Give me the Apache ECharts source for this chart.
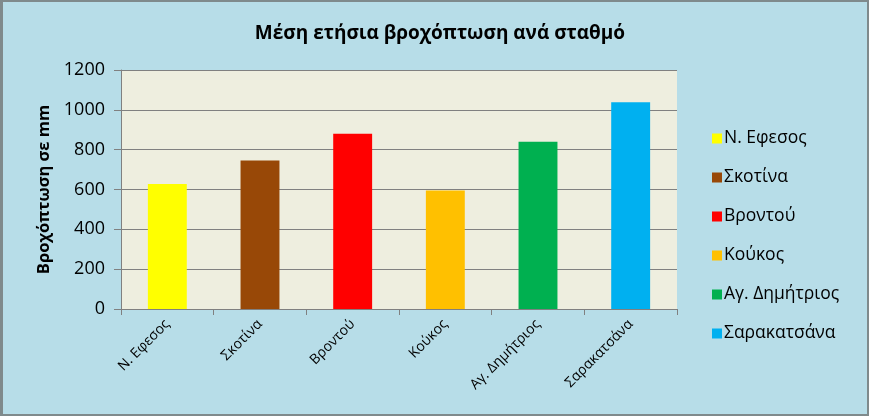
<!DOCTYPE html>
<html><head><meta charset="utf-8">
<script src="https://cdn.jsdelivr.net/npm/echarts@6/dist/echarts.min.js"></script>
<style>
html,body{margin:0;padding:0;background:#7f8a8c;}
#c{position:absolute;left:3px;top:2px;width:864px;height:412px;background:#b7dde8;}
</style></head><body>
<div id="c"></div>
<script>
const categories = ['Ν. Εφεσος','Σκοτίνα','Βροντού','Κούκος','Αγ. Δημήτριος','Σαρακατσάνα'];
const values = [628, 745, 880, 595, 840, 1038];
const colors = ['#ffff00','#984807','#ff0000','#ffc000','#00b050','#00b0f0'];
const yTicks = [0,200,400,600,800,1000,1200];

const FONT = '"Open Sans", "Noto Sans", sans-serif';
const chart = echarts.init(document.getElementById('c'));
const series = categories.map((name, i) => ({
  name: name,
  type: 'bar',
  stack: 'all',
  barWidth: '42%',
  itemStyle: {color: colors[i]},
  data: categories.map((c, j) => j === i ? values[i] : '-')
}));
chart.setOption({
  animation: false,
  backgroundColor: '#b7dde8',
  title: {
    text: 'Μέση ετήσια βροχόπτωση ανά σταθμό',
    left: 432, top: 17, textAlign: 'center',
    textStyle: {fontFamily: FONT, fontSize: 19, fontWeight: 'bold', color: '#000'}
  },
  legend: {
    orient: 'vertical',
    left: 704, top: 120,
    itemWidth: 10, itemHeight: 10, itemGap: 16,
    icon: 'rect',
    textStyle: {fontFamily: FONT, fontSize: 17.5, color: '#000', padding: [0,0,0,-3], lineHeight: 23},
    data: categories
  },
  grid: {left: 118, top: 68, right: 190, bottom: 105, containLabel: false,
         show: true, backgroundColor: '#eeeedf', borderWidth: 0},
  xAxis: {
    type: 'category',
    data: categories,
    axisLine: {lineStyle: {color: '#808080'}},
    axisTick: {show: true, length: 6, lineStyle: {color: '#808080'}},
    axisLabel: {rotate: 45, fontFamily: FONT, fontSize: 14, color: '#000', margin: 13}
  },
  yAxis: {
    type: 'value',
    min: 0, max: 1200, interval: 200,
    name: 'Βροχόπτωση σε mm',
    nameLocation: 'middle', nameGap: 67, nameRotate: 90,
    nameTextStyle: {fontFamily: FONT, fontSize: 16.5, fontWeight: 'bold', color: '#000'},
    axisLine: {show: true, lineStyle: {color: '#808080'}},
    axisTick: {show: true, length: 7, inside: false, lineStyle: {color: '#808080'}},
    splitLine: {lineStyle: {color: '#808080', width: 1}},
    axisLabel: {fontFamily: FONT, fontSize: 18, color: '#000', margin: 16,
      formatter: v => yTicks.includes(v) ? String(v) : ''}
  },
  series: series
});
</script></body></html>
